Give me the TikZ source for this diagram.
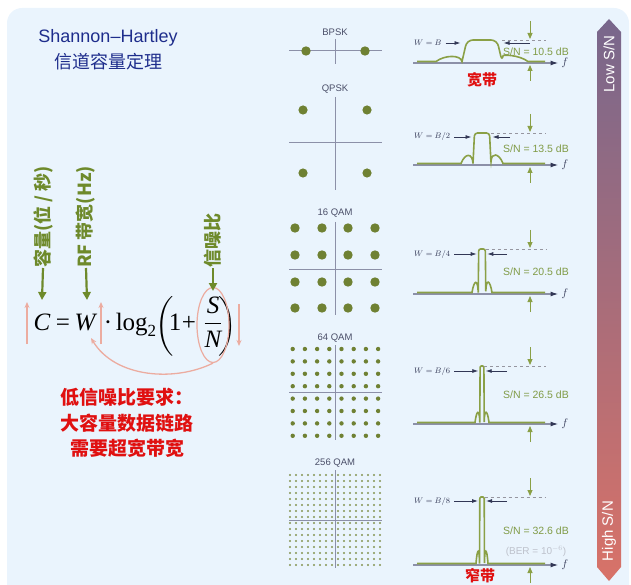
\documentclass[tikz,border=0pt]{standalone}
\usepackage[no-math]{fontspec}
\setmainfont{Liberation Sans}
\newfontfamily\cjk{Noto Sans CJK SC}
\newfontfamily\tnr{Liberation Serif}
\usepackage{amsmath}
\usetikzlibrary{positioning, arrows.meta, shapes.geometric}

\definecolor{panelbg}{RGB}{234,244,253}
\definecolor{titleblue}{RGB}{30,45,140}
\definecolor{labgreen}{RGB}{110,138,43}
\definecolor{dotgreen}{RGB}{111,129,51}
\definecolor{axisgray}{RGB}{140,144,168}
\definecolor{mlabgray}{RGB}{74,78,104}
\definecolor{specgreen}{RGB}{138,160,70}
\definecolor{sngreen}{RGB}{128,155,70}
\definecolor{navy}{RGB}{50,55,85}
\definecolor{dashgray}{RGB}{150,150,160}
\definecolor{pinkline}{RGB}{236,172,160}
\definecolor{redtxt}{RGB}{224,16,16}
\definecolor{bertxt}{RGB}{190,194,204}
\definecolor{barTop}{RGB}{120,103,140}
\definecolor{barBot}{RGB}{216,114,104}

\begin{document}
\begin{tikzpicture}[x=1pt, y=-1pt,
  ttl/.style={font=\fontsize{18}{20}\selectfont, text=titleblue, inner sep=0pt},
  vlab/.style={rotate=90, anchor=west, inner sep=0pt, text=labgreen,
    font=\cjk\bfseries\fontsize{18}{20}\selectfont},
  garrow/.style={-{Triangle[length=8pt,width=8pt]}, line width=2.2pt, labgreen},
  eqn/.style={anchor=base, inner sep=0pt, font=\tnr\fontsize{25}{30}\selectfont},
  pinkarr/.style={-{Stealth[length=6pt,width=5pt]}, line width=1.3pt, pinkline},
  mlab/.style={font=\fontsize{9.5}{11}\selectfont, text=mlabgray, inner sep=0pt},
  axisln/.style={axisgray, line width=1pt},
  faxis/.style={-{Latex[length=8pt,width=5pt,color=navy]}, axisgray, line width=1.4pt},
  spec/.style={specgreen, line width=1.6pt},
  wlab/.style={anchor=west, inner sep=0pt, text=navy, font=\fontsize{8.5}{10}\selectfont},
  warrow/.style={-{Latex[length=6pt,width=4pt]}, navy, line width=0.8pt},
  snarrow/.style={-{Triangle[length=6pt,width=5pt]}, specgreen, line width=1pt},
  sntext/.style={text=sngreen, font=\fontsize{10.5}{12}\selectfont, inner sep=0pt},
  redlab/.style={text=redtxt, font=\cjk\bfseries\fontsize{15}{17}\selectfont, inner sep=0pt},
  barlab/.style={rotate=90, text=white, font=\fontsize{15}{17}\selectfont, inner sep=0pt},
]
  \useasboundingbox (0,0) rectangle (631,585);
  \fill[panelbg, rounded corners=15] (7,8) rectangle (629,600);

  % Title
  \node[ttl] (title) at (108,38) {Shannon–Hartley};
  \node[ttl, font=\cjk\fontsize{18}{20}\selectfont] (title2) at (108,62) {信道容量定理};

  % Formula
  \node[eqn] (C) at (42,330) {\itshape C};
  \node[eqn] (eq) at (63,330) {=};
  \node[eqn] (W) at (85,330) {\itshape W};
  \node[eqn] (dot) at (108,330) {·};
  \node[eqn] (lg) at (136,330) {log\raisebox{-6pt}{\fontsize{17}{17}\selectfont 2}};
  \node[eqn, anchor=center] (lp) at (165,326) {$\bigg($};
  \node[eqn] (one) at (175,330) {1};
  \node[eqn] (plus) at (189,330) {+};
  \node[eqn] (frac) at (213,330) {$\dfrac{\mbox{\itshape S}}{\mbox{\itshape N}}$};
  \node[eqn, anchor=center] (rp) at (228,326) {$\bigg)$};
  \node[ellipse, draw=pinkline, line width=1.2pt, minimum width=32, minimum height=75,
    inner sep=0pt] (snell) at (213,325) {};

  % Vertical labels
  \node[vlab] (lcap) at (43,268) {容量(位 / 秒)};
  \node[vlab] (lrf) at (86,268) {RF 带宽(Hz)};
  \node[vlab] (lsn) at (213,268) {信噪比};
  \coordinate (capTip) at (42,300);
  \coordinate (rfTip) at (87,300);
  \coordinate (snTip) at (213,291);
  \draw[garrow] (lcap.west) -- (capTip);
  \draw[garrow] (lrf.west) -- (rfTip);
  \draw[garrow] (lsn.west) -- (snTip);

  % Pink trend arrows
  \coordinate (cA) at (27,344); \coordinate (cB) at (27,302);
  \coordinate (wA) at (101,344); \coordinate (wB) at (101,302);
  \coordinate (rA) at (239,304); \coordinate (rB) at (239,346);
  \coordinate (wTip) at (91,338);
  \draw[pinkarr] (cA) -- (cB);
  \draw[pinkarr] (wA) -- (wB);
  \draw[pinkarr] (rA) -- (rB);
  \draw[pinkarr] (snell.south) .. controls (175,382) and (115,378) .. (wTip);

  \node[align=center, text=redtxt, font=\cjk\bfseries\fontsize{19}{25.5}\selectfont]
    (req) at (127,423) {低信噪比要求：\\大容量数据链路\\需要超宽带宽};

  % Constellations
  \node[mlab] (bpsk) at (335,32) {BPSK};
  \draw[axisln] (289,51) -- (382,51) (335,39) -- (335,64);
  \fill[dotgreen] (306,51) circle (4.7pt) (365,51) circle (4.7pt);

  \node[mlab] (qpsk) at (335,89) {QPSK};
  \draw[axisln] (289,143) -- (382,143) (335,97) -- (335,190);
  \foreach \x in {303,367}
    \foreach \y in {110,173}
      \fill[dotgreen] (\x,\y) circle (4.6pt);

  \node[mlab] (qam16) at (335,213) {16 QAM};
  \draw[axisln] (289,269) -- (382,269) (335,222) -- (335,315);
  \foreach \x in {295,322,348,375}
    \foreach \y in {228,255,282,308}
      \fill[dotgreen] (\x,\y) circle (4.7pt);

  \node[mlab] (qam64) at (335,338) {64 QAM};
  \draw[axisln] (289,392.5) -- (382,392.5) (335,345) -- (335,440);
  \foreach \a in {0,...,7}
    \foreach \b in {0,...,7}
      \fill[dotgreen] (292.7+12.2*\a,349+12.4*\b) circle (2.2pt);

  \node[mlab] (qam256) at (335,463) {256 QAM};
  \draw[axisln] (289,520) -- (382,520) (335,470) -- (335,568);
  \foreach \a in {0,...,15}
    \foreach \b in {0,...,15}
      \fill[dotgreen!85] (290+6*\a,475+6*\b) circle (1.1pt);

  % Spectra
  \foreach \i/\yb/\yt/\hw/\tp/\rc/\sl/\sh/\yl/\rs/\snv in
    {1/63/40/20/5/6/46/5/43/530/10.5, 2/165/133/9/1.5/3/21/8/137/510/13.5,
     3/294/249/3.8/0.5/2/10/10/254/507/20.5, 4/424/366/2.2/0.3/1.2/7/10/371/507/26.5,
     5/565/497/2.5/0.3/1.3/6/12/501/507/32.6} {
    \coordinate (ax\i) at (413,\yb);
    \node[inner sep=0pt, text=navy, font=\fontsize{11}{12}\selectfont] (f\i) at (565,\yb) {$f$};
    \draw[faxis] (ax\i) -- ([xshift=-3pt]f\i.west);
    \draw[spec] (417,\yb-1.5) -- (482-\sl,\yb-1.5)
      .. controls ({482-\sl+0.35*(\sl-\hw)},{\yb-1.5-1.35*\sh})
              and ({482-\hw-0.05*(\sl-\hw)},{\yb-1.5-1.35*\sh}) .. (482-\hw,\yb-1.5)
      {[rounded corners=\rc] -- (482-\hw+\tp,\yt) -- (482+\hw-\tp,\yt) -- (482+\hw,\yb-1.5)}
      .. controls ({482+\hw+0.05*(\sl-\hw)},{\yb-1.5-1.35*\sh})
              and ({482+\sl-0.35*(\sl-\hw)},{\yb-1.5-1.35*\sh}) .. (482+\sl,\yb-1.5)
      -- (545,\yb-1.5);
    \draw[dashed, dashgray, line width=0.8pt] (482+\hw,\yt) -- (546,\yt);
    \coordinate (wl\i) at (482-\hw-1.5,\yl);
    \coordinate (wr\i) at (482+\hw+1.5,\yl);
    \coordinate (ws\i) at (\rs,\yl);
    \draw[warrow] (ws\i) -- (wr\i);
    \coordinate (dn\i) at (530,\yt-19); \coordinate (dnT\i) at (530,\yt-1);
    \coordinate (up\i) at (530,\yb+18); \coordinate (upT\i) at (530,\yb+2);
    \draw[snarrow] (dn\i) -- (dnT\i);
    \draw[snarrow] (up\i) -- (upT\i);
    \node[sntext] (sn\i) at (536,{(\yb+\yt)/2}) {S/N = \snv{} dB};
  }
  \node[wlab] (w1) at (414,43) {$W = B$};
  \node[wlab] (w2) at (414,137) {$W = B/2$};
  \node[wlab] (w3) at (414,254) {$W = B/4$};
  \node[wlab] (w4) at (414,371) {$W = B/6$};
  \node[wlab] (w5) at (414,501) {$W = B/8$};
  \foreach \i in {1,...,5}
    \draw[warrow] ([xshift=4pt]w\i.east) -- (wl\i);
  \node[text=bertxt, font=\fontsize{10}{12}\selectfont, inner sep=0pt] (ber) at (536,551)
    {(BER = 10$^{-6}$)};
  \node[redlab] (wide) at (482,80) {宽带};
  \node[redlab] (narrow) at (480,576) {窄带};

  % S/N bar
  \shade[top color=barTop, bottom color=barBot]
    (597,32) -- (609,19) -- (621,32) -- (621,567) -- (609,581) -- (597,567) -- cycle;
  \node[barlab] (low) at (609,64) {Low S/N};
  \node[barlab] (high) at (609,531) {High S/N};
\end{tikzpicture}
\end{document}
